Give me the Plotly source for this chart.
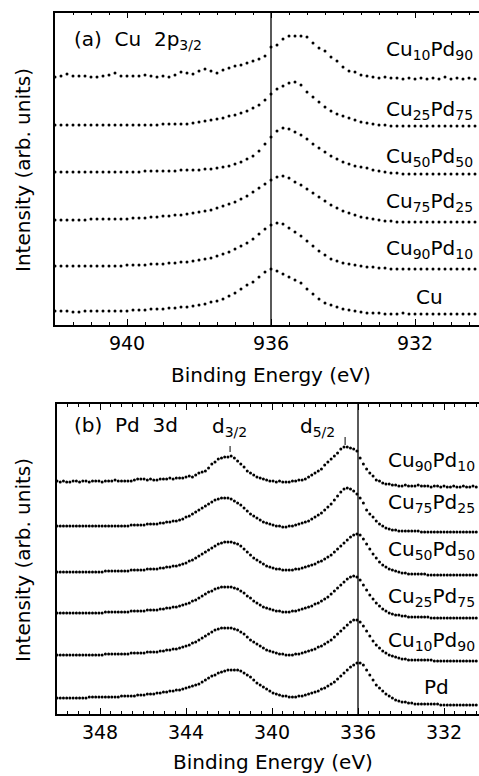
import plotly.graph_objects as go

W, H = 479, 776
FONT = "DejaVu Sans"

# ---------------- (a) Cu 2p3/2 core level ----------------
CU2P_START = 942.0      # binding energy of first channel (eV)
CU2P_STEP = 1 / 6       # channel width (eV)

cu2p_names = ["Cu", "Cu<sub>90</sub>Pd<sub>10</sub>", "Cu<sub>75</sub>Pd<sub>25</sub>",
              "Cu<sub>50</sub>Pd<sub>50</sub>", "Cu<sub>25</sub>Pd<sub>75</sub>",
              "Cu<sub>10</sub>Pd<sub>90</sub>"]
cu2p_offsets = [11, 56, 103, 151, 199, 246]

cu2p_Cu = [3, 3, 3, 2, 2, 3, 3, 3, 3, 3, 3, 3, 3, 4, 4, 4, 5, 5, 5, 6,
           6, 7, 7, 8, 9, 10, 12, 13, 15, 18, 21, 25, 29, 32, 37, 42, 45, 43, 40, 37,
           34, 31, 25, 20, 15, 11, 9, 7, 5, 4, 3, 2, 1, 1, 1, 0, 0, 0, 1, 0,
           0, 0, 0, 0, 0, 0, 0, 0, 0, 0, 0, 0]
cu2p_Cu90 = [3, 3, 3, 3, 3, 3, 3, 3, 3, 3, 3, 3, 4, 4, 4, 4, 5, 5, 5, 6,
             6, 7, 7, 8, 9, 10, 11, 13, 15, 17, 20, 23, 26, 30, 35, 40, 44, 46, 45, 41,
             37, 33, 28, 23, 18, 14, 10, 8, 6, 5, 4, 3, 2, 2, 1, 1, 0, 0, 0, 0,
             0, 0, 0, 0, 0, 0, 0, 0, 0, 0, 0, 0]
cu2p_Cu75 = [2, 2, 2, 2, 2, 2, 3, 3, 3, 3, 3, 3, 3, 4, 4, 4, 5, 5, 6, 6,
             7, 7, 8, 9, 10, 11, 12, 14, 16, 18, 20, 23, 26, 30, 34, 38, 42, 45, 46, 44,
             40, 37, 33, 29, 25, 21, 17, 14, 11, 9, 7, 5, 4, 3, 2, 1, 1, 0, 0, 0,
             0, 0, 0, 0, 0, 0, 0, 0, 0, 0, 0, 0]
cu2p_Cu50 = [2, 2, 2, 2, 2, 2, 2, 2, 2, 2, 2, 2, 2, 2, 2, 3, 3, 3, 3, 3,
             3, 4, 4, 4, 4, 5, 5, 6, 7, 8, 10, 12, 15, 18, 23, 30, 37, 43, 46, 45,
             42, 39, 35, 30, 26, 22, 18, 15, 12, 10, 8, 7, 6, 4, 3, 2, 1, 1, 0, 0,
             0, 0, 0, 0, 0, 0, 0, 0, 0, 0, 0, 0]
cu2p_Cu25 = [1, 1, 1, 1, 1, 1, 1, 1, 1, 1, 1, 1, 1, 1, 1, 1, 1, 1, 2, 2,
             2, 2, 2, 3, 4, 5, 6, 7, 8, 10, 11, 13, 15, 18, 21, 26, 32, 37, 40, 43,
             44, 41, 34, 29, 24, 19, 15, 12, 10, 8, 6, 4, 3, 2, 1, 1, 0, 0, 0, 0,
             0, 0, 0, 0, 0, 0, 0, 0, 0, 0, 0, 0]
cu2p_Cu10 = [2, 3, 5, 3, 3, 3, 2, 2, 3, 4, 6, 3, 3, 3, 3, 4, 3, 2, 3, 2,
             4, 7, 6, 5, 8, 10, 8, 6, 9, 11, 13, 14, 16, 18, 20, 23, 32, 34, 40, 43,
             43, 43, 42, 36, 31, 28, 22, 18, 12, 8, 7, 4, 3, 2, 1, 2, 1, 1, 0, 1,
             0, 1, 0, 1, 0, 2, 0, 1, 0, 1, 0, 1]
cu2p_series = [cu2p_Cu, cu2p_Cu90, cu2p_Cu75, cu2p_Cu50, cu2p_Cu25, cu2p_Cu10]

# ---------------- (b) Pd 3d core level ----------------
PD3D_START = 350.0
PD3D_STEP = 0.15

pd3d_names = ["Pd", "Cu<sub>10</sub>Pd<sub>90</sub>", "Cu<sub>25</sub>Pd<sub>75</sub>",
              "Cu<sub>50</sub>Pd<sub>50</sub>", "Cu<sub>75</sub>Pd<sub>25</sub>",
              "Cu<sub>90</sub>Pd<sub>10</sub>"]
pd3d_offsets = [9, 53, 96, 139, 182, 227]

pd3d_Pd = [7, 7, 7, 7, 7, 7, 7, 7, 7, 7,
           8, 8, 8, 8, 8, 8, 8, 8, 8, 8,
           9, 9, 9, 9, 9, 10, 10, 10, 11, 11,
           11, 12, 12, 13, 13, 14, 14, 15, 15, 16,
           17, 18, 19, 20, 21, 23, 25, 27, 29, 30,
           32, 33, 34, 35, 35, 35, 35, 34, 32, 30,
           28, 25, 22, 20, 18, 16, 14, 12, 11, 10,
           9, 9, 8, 8, 8, 9, 9, 10, 11, 12,
           13, 14, 16, 17, 19, 21, 23, 26, 29, 32,
           35, 38, 40, 42, 42, 40, 35, 30, 25, 20,
           17, 14, 11, 9, 7, 5, 4, 3, 3, 2,
           2, 1, 1, 1, 1, 1, 1, 1, 1, 0,
           0, 0, 0, 0, 0, 0, 0, 0, 0, 0,
           0]
pd3d_Cu10 = [6, 6, 6, 6, 6, 6, 6, 6, 6, 6,
             6, 6, 6, 6, 6, 7, 7, 7, 7, 7,
             7, 7, 7, 8, 8, 8, 8, 8, 9, 9,
             9, 9, 10, 10, 11, 11, 12, 12, 13, 14,
             15, 16, 18, 19, 21, 23, 25, 27, 29, 31,
             32, 33, 33, 33, 33, 32, 31, 29, 27, 24,
             21, 19, 17, 15, 13, 11, 10, 9, 8, 7,
             7, 6, 6, 6, 7, 7, 8, 9, 10, 11,
             12, 14, 15, 17, 19, 21, 24, 27, 30, 33,
             36, 39, 41, 41, 39, 35, 30, 25, 20, 16,
             13, 10, 8, 6, 5, 4, 3, 2, 2, 1,
             1, 1, 1, 1, 1, 1, 1, 0, 0, 0,
             0, 0, 0, 0, 0, 0, 0, 0, 0, 0,
             0]
pd3d_Cu25 = [5, 5, 5, 5, 5, 5, 5, 5, 5, 5,
             5, 5, 5, 5, 5, 6, 6, 6, 6, 6,
             6, 6, 6, 7, 7, 7, 7, 7, 8, 8,
             8, 8, 9, 9, 10, 10, 11, 11, 12, 13,
             14, 15, 17, 18, 20, 22, 24, 26, 27, 29,
             30, 31, 31, 31, 31, 30, 29, 27, 25, 22,
             20, 17, 15, 13, 11, 10, 9, 8, 7, 7,
             6, 6, 6, 7, 7, 8, 9, 10, 11, 12,
             14, 15, 17, 19, 21, 24, 27, 30, 33, 36,
             39, 41, 42, 41, 38, 33, 28, 23, 19, 15,
             12, 9, 7, 5, 4, 3, 3, 2, 2, 1,
             1, 1, 1, 1, 1, 1, 0, 0, 0, 0,
             0, 0, 0, 0, 0, 0, 0, 0, 0, 0,
             0]
pd3d_Cu50 = [3, 3, 3, 3, 3, 3, 3, 3, 3, 3,
             3, 3, 3, 3, 3, 4, 4, 4, 4, 4,
             4, 4, 4, 5, 5, 5, 5, 5, 6, 6,
             6, 6, 7, 7, 8, 8, 9, 9, 10, 11,
             12, 14, 15, 17, 19, 21, 23, 25, 27, 29,
             31, 32, 33, 33, 33, 32, 31, 29, 26, 23,
             20, 17, 15, 13, 11, 9, 8, 7, 6, 6,
             5, 5, 5, 5, 6, 6, 7, 8, 9, 10,
             11, 13, 14, 16, 18, 20, 23, 26, 29, 32,
             35, 38, 40, 41, 40, 36, 31, 26, 21, 17,
             13, 10, 8, 6, 5, 4, 3, 2, 2, 1,
             1, 1, 1, 1, 1, 0, 0, 0, 0, 0,
             0, 0, 0, 0, 0, 0, 0, 0, 0, 0,
             0]
pd3d_Cu75 = [6, 6, 6, 6, 6, 6, 6, 6, 6, 6,
             6, 6, 6, 6, 6, 6, 6, 6, 6, 6,
             6, 6, 6, 7, 7, 7, 7, 7, 8, 8,
             8, 8, 9, 9, 10, 10, 11, 11, 12, 13,
             15, 16, 18, 20, 22, 24, 26, 28, 30, 32,
             33, 34, 34, 34, 33, 31, 29, 27, 24, 21,
             18, 16, 14, 12, 10, 9, 8, 7, 6, 6,
             5, 5, 6, 6, 7, 8, 9, 10, 11, 13,
             15, 17, 19, 22, 25, 28, 32, 36, 40, 43,
             44, 43, 41, 38, 34, 29, 22, 18, 15, 11,
             8, 6, 4, 3, 2, 2, 1, 1, 1, 1,
             1, 1, 1, 0, 0, 0, 0, 0, 0, 0,
             0, 0, 0, 0, 0, 0, 0, 0, 0, 0,
             0]
pd3d_Cu90 = [6, 5, 6, 5, 5, 6, 6, 5, 6, 6,
             5, 6, 6, 6, 5, 6, 6, 6, 7, 6,
             6, 6, 6, 6, 7, 8, 8, 8, 7, 8,
             7, 7, 8, 8, 8, 9, 8, 9, 9, 9,
             10, 11, 10, 12, 14, 15, 16, 19, 23, 25,
             28, 29, 30, 30, 31, 29, 26, 23, 20, 16,
             14, 12, 10, 9, 8, 7, 6, 6, 5, 6,
             5, 5, 5, 6, 6, 7, 7, 8, 10, 12,
             14, 16, 18, 22, 25, 28, 31, 34, 38, 40,
             40, 39, 38, 36, 29, 23, 18, 14, 11, 7,
             6, 4, 3, 3, 2, 2, 1, 1, 2, 1,
             1, 1, 2, 1, 1, 1, 0, 1, 1, 0,
             1, 0, 0, 1, 0, 0, 1, 0, 0, 1,
             0]
pd3d_series = [pd3d_Pd, pd3d_Cu10, pd3d_Cu25, pd3d_Cu50, pd3d_Cu75, pd3d_Cu90]


def energies(start, step, n):
    return [start - k * step for k in range(n)]


def paper(x, y):
    """pixel position -> paper fraction"""
    return x / W, 1 - y / H


fig = go.Figure()
dot = dict(size=3, color="black", symbol="circle")

for vals, off in zip(cu2p_series, cu2p_offsets):
    fig.add_trace(go.Scatter(x=energies(CU2P_START, CU2P_STEP, len(vals)),
                             y=[v + off for v in vals], mode="markers", marker=dot,
                             xaxis="x", yaxis="y", showlegend=False, hoverinfo="skip"))

for vals, off in zip(pd3d_series, pd3d_offsets):
    fig.add_trace(go.Scatter(x=energies(PD3D_START, PD3D_STEP, len(vals)),
                             y=[v + off for v in vals], mode="markers", marker=dot,
                             xaxis="x2", yaxis="y2", showlegend=False, hoverinfo="skip"))

tickfont = dict(family=FONT, size=19, color="black")


def xaxis_style(domain, rng, tick0, anchor):
    return dict(domain=domain, range=rng, anchor=anchor,
                tickmode="linear", tick0=tick0, dtick=4,
                ticks="inside", ticklen=6, tickwidth=1, tickcolor="black",
                minor=dict(tickmode="linear", tick0=tick0, dtick=0.5, ticks="inside",
                           ticklen=3, tickwidth=1, tickcolor="black"),
                showline=True, linewidth=1.5, linecolor="black", mirror="ticks",
                showgrid=False, zeroline=False, tickfont=tickfont,
                ticklabelstandoff=0)


def yaxis_style(domain, rng, anchor):
    return dict(domain=domain, range=rng, anchor=anchor, showticklabels=False,
                ticks="", showline=True, linewidth=1.5, linecolor="black",
                showgrid=False, zeroline=False)


fig.update_layout(
    width=W, height=H, margin=dict(l=0, r=0, t=0, b=0),
    paper_bgcolor="white", plot_bgcolor="white",
    xaxis=xaxis_style([55 / W, 1], [942, 942 - (W - 55) / 36], 940, "y"),
    yaxis=yaxis_style([1 - 325 / H, 1 - 12.5 / H], [0, 312.5], "x"),
    xaxis2=xaxis_style([57 / W, 1], [350, 350 - (W - 57) / 21.5], 348, "y2"),
    yaxis2=yaxis_style([1 - 714 / H, 1 - 404 / H], [0, 310], "x2"),
)

# reference lines at the metallic Cu 2p3/2 and Pd 3d5/2 positions
fig.add_shape(type="line", xref="x", yref="y domain", x0=936, x1=936, y0=0, y1=1,
              line=dict(color="black", width=1.3))
fig.add_shape(type="line", xref="x2", yref="y2 domain", x0=336, x1=336, y0=0, y1=1,
              line=dict(color="black", width=1.3))

# peak markers for the spin-orbit components
fig.add_shape(type="line", xref="x2", yref="y2", x0=341.95, x1=341.95, y0=262, y1=268,
              line=dict(color="black", width=1))
fig.add_shape(type="line", xref="x2", yref="y2", x0=336.6, x1=336.6, y0=269, y1=277,
              line=dict(color="black", width=1))


def text(s, x, y, size=20, xanchor="center", angle=0):
    px_, py_ = paper(x, y)
    fig.add_annotation(text=s, x=px_, y=py_, xref="paper", yref="paper",
                       xanchor=xanchor, yanchor="middle", showarrow=False,
                       textangle=angle, font=dict(family=FONT, size=size, color="black"))


NB = "\u00a0"
text(f"(a){NB}{NB}Cu{NB}{NB}2p<sub>3/2</sub>", 72, 40, xanchor="left")
text(f"(b){NB}{NB}Pd{NB}{NB}3d", 72, 425, xanchor="left")
text("d<sub>3/2</sub>", 210, 427, xanchor="left")
text("d<sub>5/2</sub>", 298, 427, xanchor="left")

cu2p_label_y = [294, 246, 199, 154, 107, 47]
for name, yy in zip(cu2p_names, cu2p_label_y):
    text(name, 429, yy + 3)

pd3d_label_y = [684, 638, 594, 547, 500, 458]
for name, yy in zip(pd3d_names, pd3d_label_y):
    text(name, 436 if name == "Pd" else 431, yy + 3)

text("Binding Energy (eV)", 271, 375)
text("Binding Energy (eV)", 273, 762)
text("Intensity (arb. units)", 23, 170, angle=-90)
text("Intensity (arb. units)", 23, 560, angle=-90)

fig.write_html("out.html")
